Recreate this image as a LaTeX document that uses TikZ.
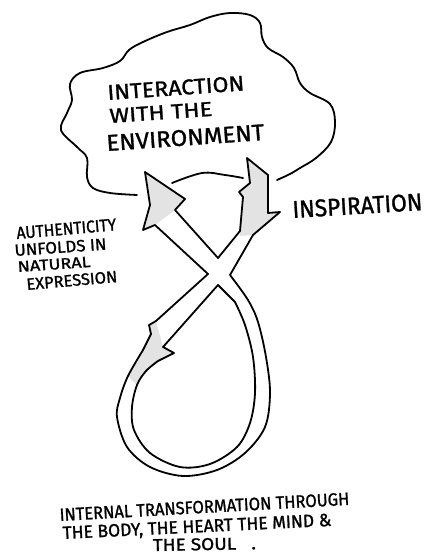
\documentclass[tikz,border=0pt]{standalone}
\usepackage{fontspec}
\setmainfont{Fira Sans}[FakeBold=1.2]
\begin{document}
\begin{tikzpicture}[x=1pt,y=-1pt,
  band/.style={line width=1.8pt, line join=round, line cap=round},
  cloudline/.style={line width=1.8pt, line cap=round},
  headfill/.style={fill=black!11, draw=none},
  lbl/.style={inner sep=0pt, outer sep=0pt, anchor=base west}]
\useasboundingbox (0,0) rectangle (425,553);
% arrowhead shading
\fill[headfill] (145,172) -- (185,199) -- (175,210) -- (155,225) -- (143,230) -- (150,205) -- cycle;
\fill[headfill] (247,158) -- (268,175) -- (268,213) -- (280,212) -- (253,235) -- (240,236) -- (240,231) -- (243,197) -- (239,192) -- (250,183) -- cycle;
\fill[headfill] (156,321) -- (149,325) -- (151,334) -- (143,350) -- (128,376) -- (137,385) -- (146,371) -- (158,361) -- (174,353) -- (163,347) -- cycle;
% cloud
\draw[cloudline] plot[smooth, tension=0.6] coordinates {(137,195) (110,193) (93,188) (87,177) (87,158) (77,147) (61,130) (67,113) (72,100) (70,84) (80,73) (103,68) (120,61) (129,50) (143,42) (167,32) (190,25) (210,17) (230,13) (250,15) (260,23) (262,37) (268,48) (283,57) (294,68) (300,83) (310,93) (330,104) (335,122) (331,142) (316,158) (300,168) (290,174) (277,180)};
\draw[cloudline] plot[smooth, tension=0.6] coordinates {(172,183) (202,173) (225,175) (243,178)};
% figure-eight band, outer outline
\draw[band] (143,230) -- (150,205) -- (145,172)
  -- (185,199) -- (175,210) -- (218,258) -- (240,231) -- (243,197) -- (239,192) -- (250,183) -- (247,158)
  -- (268,175) -- (268,213) -- (280,212) -- (253,235) -- (230,275)
  -- plot[smooth, tension=0.55] coordinates {(230,275) (248,300) (258,322) (266,357) (270,393) (265,427) (245,453) (217,470) (183,476) (150,467) (127,447) (117,417) (120,398) (128,376) (143,350)}
  -- (151,334) -- (149,325) -- (156,321) -- (208,274) -- (155,225) -- cycle;
% inner outline
\draw[band] (218,285) -- (163,347) -- (174,353) -- (158,361)
  -- plot[smooth, tension=0.55] coordinates {(158,361) (146,371) (137,385) (132,407) (134,430) (150,453) (180,467) (210,464) (237,447) (250,423) (255,393) (253,357) (245,325) (235,302)} -- cycle;
% texts
\node[lbl, rotate=4] (c1) at (108,100) {\resizebox{137pt}{15pt}{INTERACTION}};
\node[lbl, rotate=4] (c2) at (110,123) {\resizebox{103pt}{14pt}{WITH THE}};
\node[lbl, rotate=4] (c3) at (107,151) {\resizebox{158pt}{16pt}{ENVIRONMENT}};
\node[lbl, rotate=3.5] (insp) at (293,218) {\resizebox{130pt}{17pt}{INSPIRATION}};
\node[lbl, rotate=5] (a1) at (17,239) {\resizebox{100pt}{12pt}{AUTHENTICITY}};
\node[lbl, rotate=4] (a2) at (15,256) {\resizebox{92pt}{11.5pt}{UNFOLDS IN}};
\node[lbl, rotate=4] (a3) at (18,272) {\resizebox{73pt}{10.5pt}{NATURAL}};
\node[lbl, rotate=5] (a4) at (27,290) {\resizebox{91pt}{11.5pt}{EXPRESSION}};
\node[lbl, rotate=3.2] (b1) at (60,521) {\resizebox{290pt}{12.5pt}{INTERNAL TRANSFORMATION THROUGH}};
\node[lbl, rotate=2.8] (b2) at (63,539) {\resizebox{269pt}{12.5pt}{THE BODY, THE HEART THE MIND \&}};
\node[lbl, rotate=1] (b3) at (153,551) {\resizebox{103pt}{12pt}{THE SOUL\ \ \ .}};
\end{tikzpicture}
\end{document}
